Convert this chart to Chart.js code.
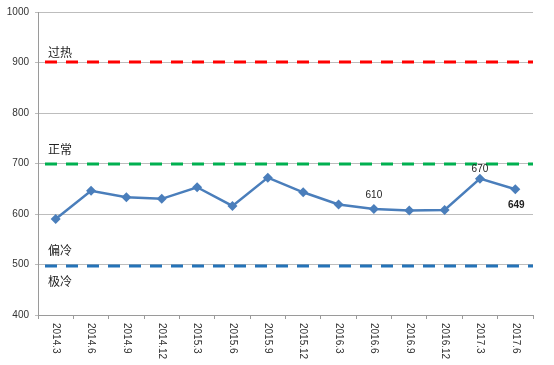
<!DOCTYPE html>
<html lang="zh">
<head>
    <meta charset="UTF-8">
    <title>指数走势</title>
    <script src="https://cdn.jsdelivr.net/npm/chart.js"></script>
    <style>
        body { margin: 0; background: #fff; }
        canvas { display: block; }
    </style>
</head>
<body>
    <canvas id="indexChart" width="554" height="365"></canvas>

    <script>
        // data
        const periods = ['2014.3', '2014.6', '2014.9', '2014.12', '2015.3', '2015.6', '2015.9',
                         '2015.12', '2016.3', '2016.6', '2016.9', '2016.12', '2017.3', '2017.6'];
        const values = [590, 646, 633, 630, 653, 616, 672, 643, 619, 610, 607, 608, 670, 649];

        // threshold lines (value, colour)
        const thresholdValues = [900, 700, 497];
        const thresholdColors = ['#ff0000', '#00b050', '#2473b8'];

        // zone captions anchored at a value on the y axis
        const zoneNames = ['过热', '正常', '偏冷', '极冷'];
        const zoneValues = [920, 728, 528, 466];

        // values that carry a label: index -> placement
        const labelledIdx = [9, 12, 13];
        const labelPlace = ['above', 'above', 'below'];

        const yTicks = [400, 500, 600, 700, 800, 900, 1000];

        const overlay = {
            id: 'overlay',
            beforeDatasetsDraw(chart) {
                const ctx = chart.ctx;
                const area = chart.chartArea;
                const y = chart.scales.y;
                ctx.save();
                ctx.lineWidth = 3.2;
                ctx.setLineDash([12, 9]);
                thresholdValues.forEach((v, i) => {
                    const py = Math.round(y.getPixelForValue(v));
                    ctx.strokeStyle = thresholdColors[i];
                    ctx.beginPath();
                    ctx.moveTo(area.left + 7, py);
                    ctx.lineTo(area.right, py);
                    ctx.stroke();
                });
                ctx.restore();

                ctx.save();
                ctx.fillStyle = '#222';
                ctx.font = '12px "Noto Sans CJK SC"';
                ctx.textBaseline = 'middle';
                zoneNames.forEach((t, i) => {
                    ctx.fillText(t, area.left + 10, y.getPixelForValue(zoneValues[i]));
                });
                ctx.restore();
            },
            afterDraw(chart) {
                const ctx = chart.ctx;
                const x = chart.scales.x;
                // category labels, turned clockwise
                ctx.save();
                ctx.fillStyle = '#333';
                ctx.font = '10px "Liberation Sans", Arial, sans-serif';
                ctx.textAlign = 'left';
                ctx.textBaseline = 'middle';
                periods.forEach((p, i) => {
                    ctx.save();
                    ctx.translate(x.getPixelForValue(i), x.top + 8);
                    ctx.rotate(Math.PI / 2);
                    ctx.fillText(p, 0, 0);
                    ctx.restore();
                });
                ctx.restore();

                // value labels
                const pts = chart.getDatasetMeta(0).data;
                ctx.save();
                ctx.fillStyle = '#222';
                ctx.textAlign = 'center';
                ctx.textBaseline = 'middle';
                labelledIdx.forEach((idx, k) => {
                    const pt = pts[idx];
                    const below = labelPlace[k] === 'below';
                    ctx.font = (below ? 'bold ' : '') + '10px "Liberation Sans", Arial, sans-serif';
                    const dy = below ? 16 : (idx === 12 ? -9 : -14);
                    ctx.fillText(String(values[idx]), pt.x + (below ? 1 : 0), pt.y + dy);
                });
                ctx.restore();
            }
        };

        new Chart(document.getElementById('indexChart'), {
            type: 'line',
            data: {
                labels: periods,
                datasets: [{
                    data: values,
                    borderColor: '#4a7ebb',
                    backgroundColor: '#4a7ebb',
                    borderWidth: 2.5,
                    pointStyle: 'rectRot',
                    pointRadius: 5,
                    pointBorderWidth: 0,
                    tension: 0,
                    fill: false
                }]
            },
            options: {
                responsive: false,
                animation: false,
                layout: { padding: { top: 10, right: 21, left: 0, bottom: 0 } },
                plugins: { legend: { display: false }, tooltip: { enabled: false } },
                scales: {
                    x: {
                        offset: true,
                        grid: { offset: true, drawOnChartArea: false, color: '#9a9a9a', tickLength: 4 },
                        border: { color: '#9a9a9a' },
                        ticks: { display: false },
                        afterFit(scale) { scale.height = 50; }
                    },
                    y: {
                        min: 400,
                        max: 1000,
                        afterBuildTicks(scale) { scale.ticks = yTicks.map(v => ({ value: v })); },
                        grid: { color: '#bdbdbd', tickLength: 3 },
                        border: { color: '#9a9a9a' },
                        ticks: {
                            color: '#333',
                            padding: 6,
                            font: { size: 10, family: '"Liberation Sans", Arial, sans-serif' },
                            callback: v => String(v)
                        },
                        afterFit(scale) { scale.width = 38; }
                    }
                }
            },
            plugins: [overlay]
        });
    </script>
</body>
</html>
